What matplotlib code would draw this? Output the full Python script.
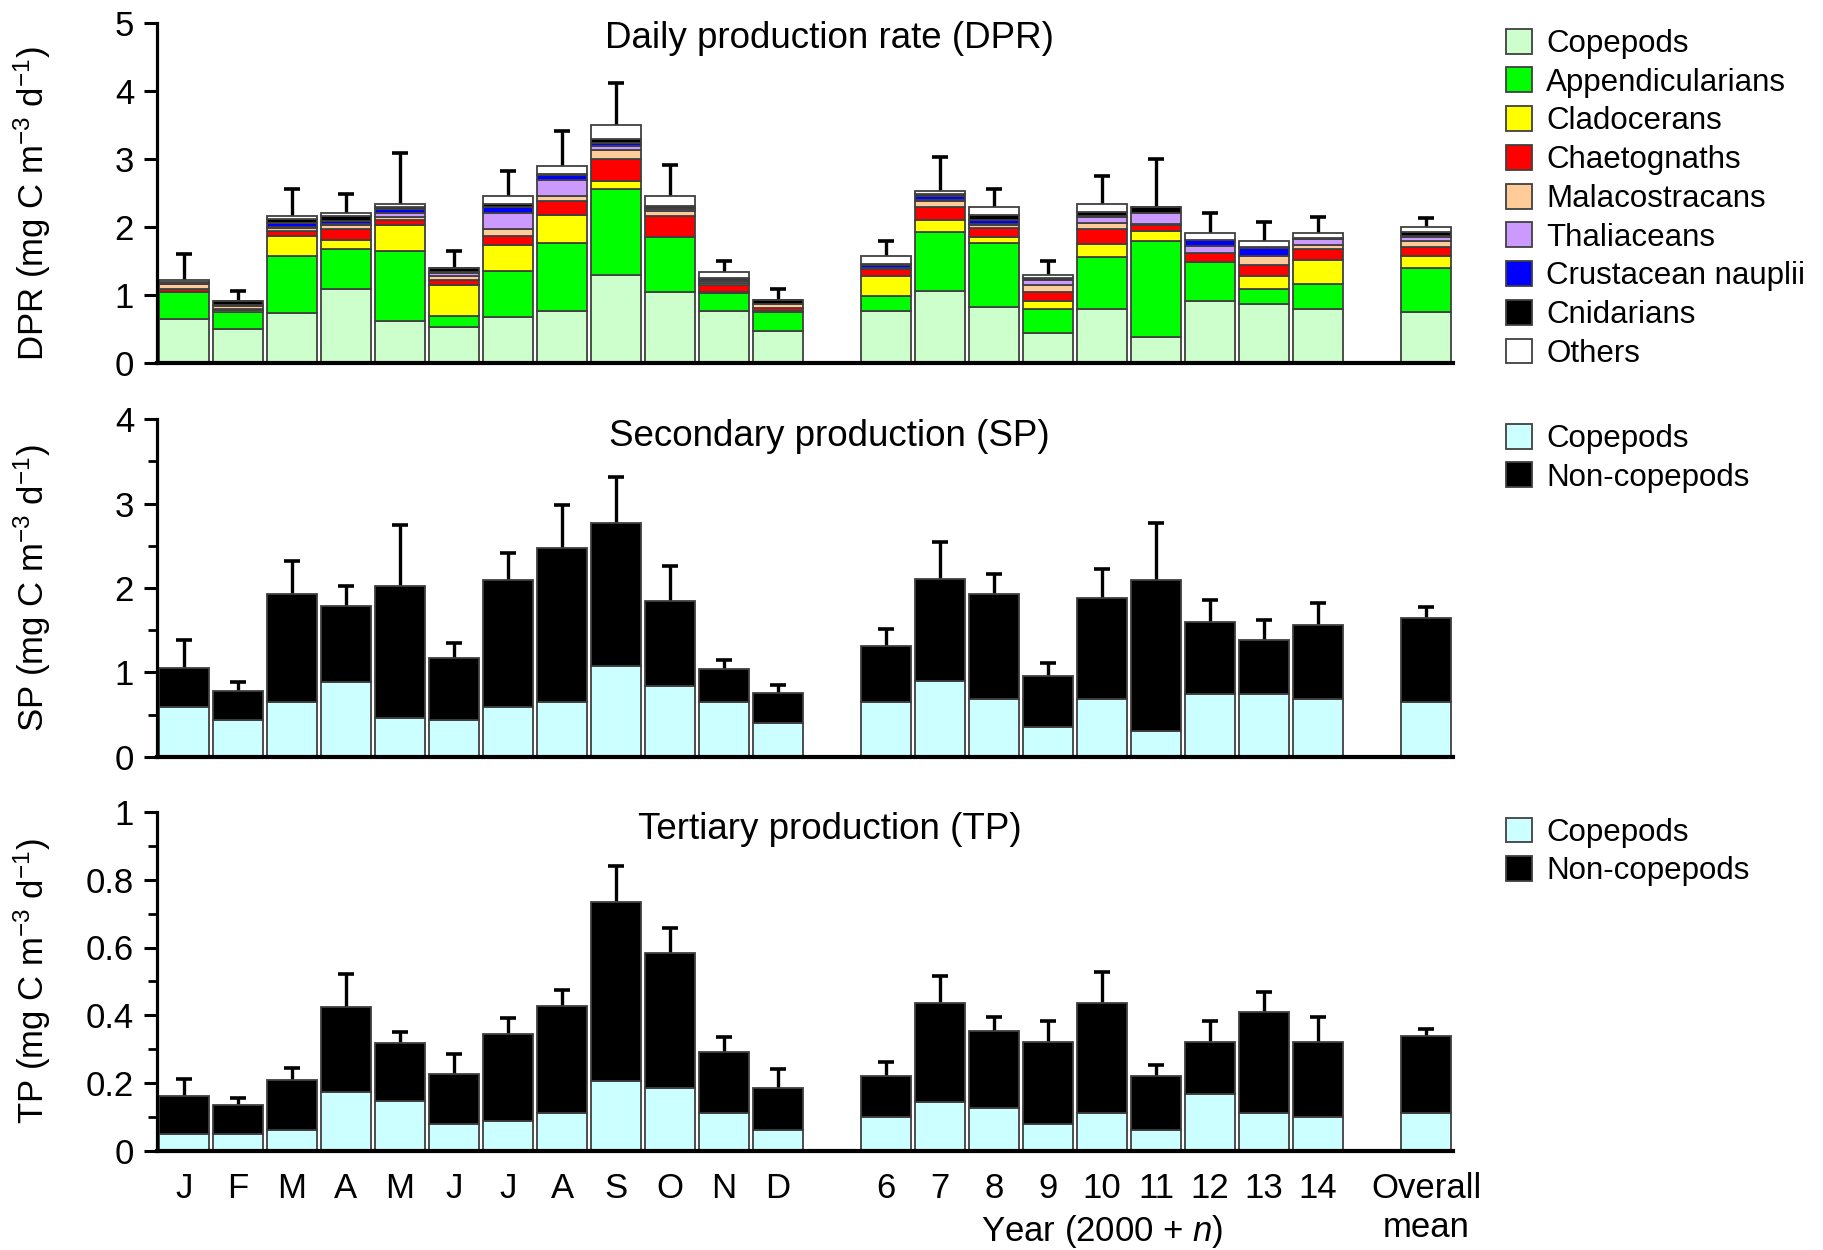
import matplotlib

matplotlib.use("Agg")
import matplotlib.pyplot as plt
import matplotlib.transforms as mtransforms
import numpy as np
from matplotlib.patches import Patch
from matplotlib.ticker import FuncFormatter, MultipleLocator

plt.rcParams["font.family"] = ["Liberation Sans", "DejaVu Sans"]
plt.rcParams["mathtext.fontset"] = "custom"
plt.rcParams["mathtext.rm"] = "Liberation Sans"
plt.rcParams["mathtext.it"] = "Liberation Sans:italic"

# bar slots: 12 months, gap, 2006-2014, gap, overall mean
months = ["J", "F", "M", "A", "M", "J", "J", "A", "S", "O", "N", "D"]
years = ["6", "7", "8", "9", "10", "11", "12", "13", "14"]
overall = ["Overall\nmean"]
positions = list(range(12)) + list(range(13, 22)) + [23]
labels = months + years + overall

# daily production rate by taxon (mg C m-3 d-1)
dpr_copepods = [0.64, 0.50, 0.735, 1.09, 0.62, 0.525, 0.675, 0.76, 1.29, 1.04, 0.76, 0.465,
                0.76, 1.055, 0.82, 0.44, 0.80, 0.38, 0.915, 0.87, 0.79, 0.75]
dpr_appendicularians = [0.40, 0.255, 0.845, 0.59, 1.02, 0.17, 0.675, 1.005, 1.27, 0.81, 0.27, 0.285,
                        0.23, 0.865, 0.945, 0.355, 0.76, 1.42, 0.565, 0.22, 0.375, 0.65]
dpr_cladocerans = [0.01, 0.03, 0.29, 0.13, 0.39, 0.45, 0.39, 0.405, 0.12, 0.01, 0.01, 0.01,
                   0.295, 0.19, 0.095, 0.11, 0.195, 0.135, 0.01, 0.195, 0.355, 0.17]
dpr_chaetognaths = [0.04, 0.01, 0.065, 0.165, 0.075, 0.08, 0.13, 0.215, 0.32, 0.295, 0.11, 0.05,
                    0.095, 0.18, 0.125, 0.14, 0.22, 0.10, 0.125, 0.16, 0.16, 0.13]
dpr_malacostracans = [0.07, 0.05, 0.055, 0.055, 0.035, 0.06, 0.10, 0.075, 0.13, 0.075, 0.02, 0.06,
                      0.01, 0.095, 0.05, 0.095, 0.08, 0.01, 0.005, 0.135, 0.05, 0.09]
dpr_thaliaceans = [0.01, 0.01, 0.01, 0.01, 0.065, 0.04, 0.235, 0.235, 0.065, 0.04, 0.035, 0.0,
                   0.01, 0.01, 0.01, 0.075, 0.09, 0.16, 0.10, 0.0, 0.095, 0.065]
dpr_nauplii = [0.01, 0.0, 0.06, 0.05, 0.06, 0.01, 0.085, 0.075, 0.04, 0.005, 0.01, 0.0,
               0.04, 0.065, 0.065, 0.01, 0.01, 0.0, 0.085, 0.11, 0.0, 0.01]
dpr_cnidarians = [0.01, 0.05, 0.06, 0.065, 0.025, 0.065, 0.05, 0.01, 0.065, 0.03, 0.03, 0.06,
                  0.015, 0.02, 0.07, 0.02, 0.06, 0.09, 0.01, 0.01, 0.01, 0.055]
dpr_others = [0.03, 0.01, 0.035, 0.05, 0.05, 0.0, 0.11, 0.12, 0.195, 0.145, 0.09, 0.0,
              0.115, 0.045, 0.115, 0.045, 0.125, 0.0, 0.095, 0.09, 0.075, 0.075]
dpr_err = [0.385, 0.15, 0.405, 0.275, 0.75, 0.25, 0.37, 0.505, 0.625, 0.46, 0.17, 0.16,
           0.22, 0.505, 0.265, 0.21, 0.415, 0.705, 0.295, 0.28, 0.235, 0.135]

# secondary production
sp_copepods = [0.585, 0.44, 0.645, 0.885, 0.455, 0.44, 0.585, 0.645, 1.075, 0.84, 0.645, 0.395,
               0.645, 0.90, 0.69, 0.35, 0.68, 0.30, 0.745, 0.745, 0.68, 0.645]
sp_noncopepods = [0.47, 0.34, 1.285, 0.905, 1.565, 0.735, 1.505, 1.825, 1.695, 1.01, 0.395, 0.355,
                  0.67, 1.205, 1.24, 0.61, 1.205, 1.79, 0.855, 0.635, 0.885, 1.005]
sp_err = [0.325, 0.11, 0.39, 0.23, 0.73, 0.175, 0.32, 0.51, 0.54, 0.41, 0.11, 0.10,
          0.205, 0.435, 0.24, 0.155, 0.335, 0.685, 0.26, 0.24, 0.255, 0.12]

# tertiary production
tp_copepods = [0.05, 0.05, 0.061, 0.172, 0.148, 0.078, 0.089, 0.11, 0.207, 0.184, 0.11, 0.061,
               0.101, 0.145, 0.125, 0.078, 0.11, 0.061, 0.168, 0.11, 0.101, 0.11]
tp_noncopepods = [0.113, 0.086, 0.148, 0.252, 0.169, 0.148, 0.255, 0.317, 0.526, 0.40, 0.182, 0.125,
                  0.12, 0.29, 0.228, 0.244, 0.325, 0.16, 0.154, 0.301, 0.221, 0.229]
tp_err = [0.049, 0.021, 0.036, 0.099, 0.033, 0.06, 0.047, 0.049, 0.108, 0.075, 0.045, 0.054,
          0.042, 0.08, 0.043, 0.06, 0.092, 0.031, 0.06, 0.057, 0.074, 0.019]

taxa = ["Copepods", "Appendicularians", "Cladocerans", "Chaetognaths", "Malacostracans",
        "Thaliaceans", "Crustacean nauplii", "Cnidarians", "Others"]
taxa_colors = ["#ccffcc", "#00ff00", "#ffff00", "#ff0000", "#ffcc99",
               "#cc99ff", "#0000ff", "#000000", "#ffffff"]
two_groups = ["Copepods", "Non-copepods"]
two_colors = ["#ccffff", "#000000"]

EDGE = "#404040"
BAR_W = 0.93
FS = 25
TITLE_FS = 26.5


def stacked(ax, layers, colors, err):
    x = np.array(positions, dtype=float)
    bottom = np.zeros(len(x))
    for vals, c in zip(layers, colors):
        vals = np.array(vals)
        ax.bar(x, vals, BAR_W, bottom=bottom, color=c, edgecolor=EDGE,
               linewidth=1.3, zorder=3)
        bottom += vals
    # symmetric error bars drawn behind the bars, so only the upper half shows
    ax.errorbar(x, bottom, yerr=err, fmt="none", ecolor="black", elinewidth=2.4,
                capsize=5.5, capthick=2.6, zorder=2)


def style(ax, ymax, major, minor=None):
    ax.set_xlim(-0.5, 23.5)
    ax.set_ylim(0, ymax)
    for s in ("top", "right"):
        ax.spines[s].set_visible(False)
    ax.spines["left"].set_linewidth(2.3)
    ax.spines["bottom"].set_linewidth(3.0)
    for s in ("left", "bottom"):
        ax.spines[s].set_zorder(6)
    ax.yaxis.set_major_locator(MultipleLocator(major))
    if minor:
        ax.yaxis.set_minor_locator(MultipleLocator(minor))
    ax.yaxis.set_major_formatter(FuncFormatter(lambda v, p: f"{v:g}"))
    ax.tick_params(axis="y", which="major", length=9.5, width=2.2, labelsize=FS, pad=7)
    ax.tick_params(axis="y", which="minor", length=6.5, width=2.0)
    ax.tick_params(axis="x", length=0)
    ax.set_xticks(positions)
    ax.set_xticklabels([])


def legend(ax, names, colors, top):
    handles = [Patch(facecolor=c, edgecolor=EDGE, linewidth=1.3) for c in colors]
    ax.legend(handles, names, loc="upper left", bbox_to_anchor=(0.826, top),
              bbox_transform=ax.figure.transFigure, frameon=False, fontsize=22.5,
              handlelength=0.85, handleheight=0.85, handletextpad=0.45,
              labelspacing=0.27, borderpad=0, borderaxespad=0)


fig = plt.figure(figsize=(18.23, 12.5), dpi=100)
ax1 = fig.add_axes([0.0861, 0.7096, 0.711, 0.272])
ax2 = fig.add_axes([0.0861, 0.3946, 0.711, 0.270])
ax3 = fig.add_axes([0.0861, 0.0794, 0.711, 0.271])

dpr_layers = [dpr_copepods, dpr_appendicularians, dpr_cladocerans, dpr_chaetognaths,
              dpr_malacostracans, dpr_thaliaceans, dpr_nauplii, dpr_cnidarians, dpr_others]
stacked(ax1, dpr_layers, taxa_colors, dpr_err)
style(ax1, 5, 1)
ax1.set_ylabel(r"DPR (mg C m$^{-3}$ d$^{-1}$)", fontsize=FS)
ax1.yaxis.set_label_coords(-0.08, 0.47)
ax1.text(0.519, 0.953, "Daily production rate (DPR)", transform=ax1.transAxes,
         ha="center", va="center", fontsize=TITLE_FS)
legend(ax1, taxa, taxa_colors, 0.977)

stacked(ax2, [sp_copepods, sp_noncopepods], two_colors, sp_err)
style(ax2, 4, 1, 0.5)
ax2.set_ylabel(r"SP (mg C m$^{-3}$ d$^{-1}$)", fontsize=FS)
ax2.yaxis.set_label_coords(-0.08, 0.5)
ax2.text(0.519, 0.95, "Secondary production (SP)", transform=ax2.transAxes,
         ha="center", va="center", fontsize=TITLE_FS)
legend(ax2, two_groups, two_colors, 0.661)

stacked(ax3, [tp_copepods, tp_noncopepods], two_colors, tp_err)
style(ax3, 1, 0.2, 0.1)
ax3.set_ylabel(r"TP (mg C m$^{-3}$ d$^{-1}$)", fontsize=FS)
ax3.yaxis.set_label_coords(-0.08, 0.5)
ax3.text(0.519, 0.949, "Tertiary production (TP)", transform=ax3.transAxes,
         ha="center", va="center", fontsize=TITLE_FS)
legend(ax3, two_groups, two_colors, 0.346)

ax3.set_xticklabels(labels, fontsize=FS, linespacing=1.26)
ax3.tick_params(axis="x", pad=15)
trans = mtransforms.blended_transform_factory(ax3.transData, ax3.transAxes)
ax3.text(np.mean(positions[12:21]), -0.238, r"Year (2000 + $n$)", transform=trans,
         ha="center", va="center", fontsize=FS)

fig.savefig("out.png", dpi=100)
